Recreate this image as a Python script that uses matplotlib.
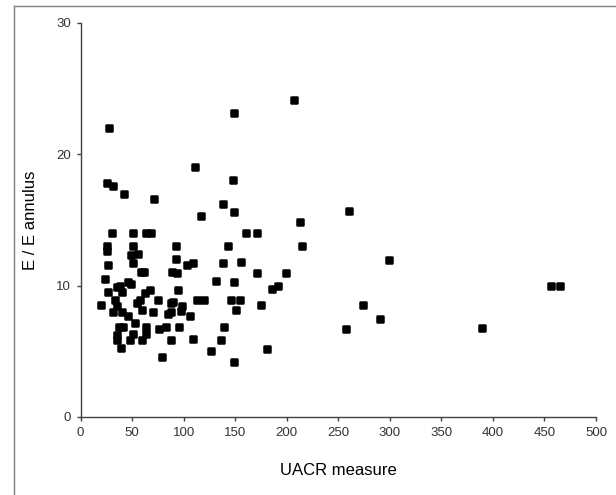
import matplotlib
matplotlib.use("Agg")
import matplotlib.pyplot as plt
from matplotlib.markers import MarkerStyle
from matplotlib.lines import Line2D

plt.rcParams['font.family'] = ['Liberation Sans', 'DejaVu Sans']

# UACR measure vs E / E annulus
uacr = [27.6, 149, 110.8, 25.4, 31.5, 41.9, 71.3, 147.9, 137.9, 149.2,
        117.2, 30.3, 50.9, 63.5, 68.1, 160.8, 171.2, 25.4, 25.4, 50.9,
        49, 55.8, 92.9, 92.9, 143, 50.9, 26.4, 58.7, 61.6, 88.5,
        93.3, 103, 109.4, 137.9, 156, 23.8, 26.4, 35.1, 38.3, 40.5,
        45.8, 49, 62.6, 67.4, 19.9, 33.8, 35.7, 31.8, 40, 45.8,
        54.5, 57.7, 60, 70.6, 75.5, 87.8, 90, 98.1, 97.2, 84.6,
        87.5, 94.3, 106.2, 112.7, 120, 131.4, 148.9, 145.7, 154.7, 150.5,
        52.6, 40.9, 37.6, 35.7, 35.7, 39, 48, 50.6, 59.4, 63.5,
        63.5, 76.1, 82.9, 95.5, 87.8, 108.8, 79.3, 126.3, 139.2, 136.6,
        149.2, 171.2, 186, 191.9, 175, 181, 207.1, 260.7, 213.2, 214.5,
        199.3, 299.2, 273.7, 290.2, 257.8, 389.7, 456, 465]
ee_annulus = [22.0, 23.15, 19.0, 17.8, 17.6, 17.0, 16.6, 18.0, 16.2, 15.6,
              15.3, 14.0, 14.0, 14.0, 14.0, 14.0, 14.0, 13.0, 12.6, 13.0,
              12.3, 12.4, 13.0, 12.0, 13.0, 11.7, 11.55, 11.0, 11.0, 11.05,
              10.94, 11.55, 11.7, 11.7, 11.8, 10.5, 9.5, 9.87, 9.95, 9.5,
              10.3, 10.1, 9.44, 9.64, 8.55, 8.93, 8.42, 7.96, 7.96, 7.66,
              8.68, 8.93, 8.17, 7.96, 8.93, 8.68, 8.73, 8.42, 8.04, 7.86,
              7.96, 9.64, 7.66, 8.93, 8.93, 10.38, 10.25, 8.93, 8.93, 8.17,
              7.15, 6.85, 6.85, 6.26, 5.88, 5.24, 5.88, 6.34, 5.88, 6.31,
              6.85, 6.69, 6.85, 6.85, 5.83, 5.93, 4.6, 5.04, 6.85, 5.83,
              4.22, 10.97, 9.75, 9.95, 8.55, 5.2, 24.15, 15.67, 14.8, 13.0,
              10.97, 11.96, 8.55, 7.46, 6.72, 6.8, 9.95, 9.95]

x_ticks = [0, 50, 100, 150, 200, 250, 300, 350, 400, 450, 500]
y_ticks = [0, 10, 20, 30]

fig = plt.figure(figsize=(6.16, 4.95), dpi=100)
ax = fig.add_axes([0.1307, 0.1576, 0.8368, 0.7965])

marker = MarkerStyle('s', joinstyle='round')
ax.scatter(uacr, ee_annulus, marker=marker, s=20, c='black',
           edgecolors='black', linewidths=1.8, zorder=3, clip_on=False)

ax.set_xlim(0, 500)
ax.set_ylim(0, 30)
ax.set_xticks(x_ticks)
ax.set_yticks(y_ticks)

for side in ['top', 'right']:
    ax.spines[side].set_visible(False)
for side in ['left', 'bottom']:
    ax.spines[side].set_color('#404040')
    ax.spines[side].set_linewidth(1.0)

ax.tick_params(direction='out', length=3, width=1, color='#404040',
               labelsize=9.5, labelcolor='#333333', pad=4)

ax.set_xlabel('UACR measure', fontsize=12)
ax.set_ylabel('E / E annulus', fontsize=12)
ax.xaxis.set_label_coords(0.5, -0.117)
ax.yaxis.set_label_coords(-0.082, 0.5)

# gray frame of the original figure (only left and top edges visible)
fig.add_artist(Line2D([13.5 / 616, 13.5 / 616], [0, 1 - 5.5 / 495],
                      transform=fig.transFigure, color='#808080', lw=1))
fig.add_artist(Line2D([13.5 / 616, 1], [1 - 5.5 / 495, 1 - 5.5 / 495],
                      transform=fig.transFigure, color='#808080', lw=1))

fig.savefig('out.png', dpi=100)
